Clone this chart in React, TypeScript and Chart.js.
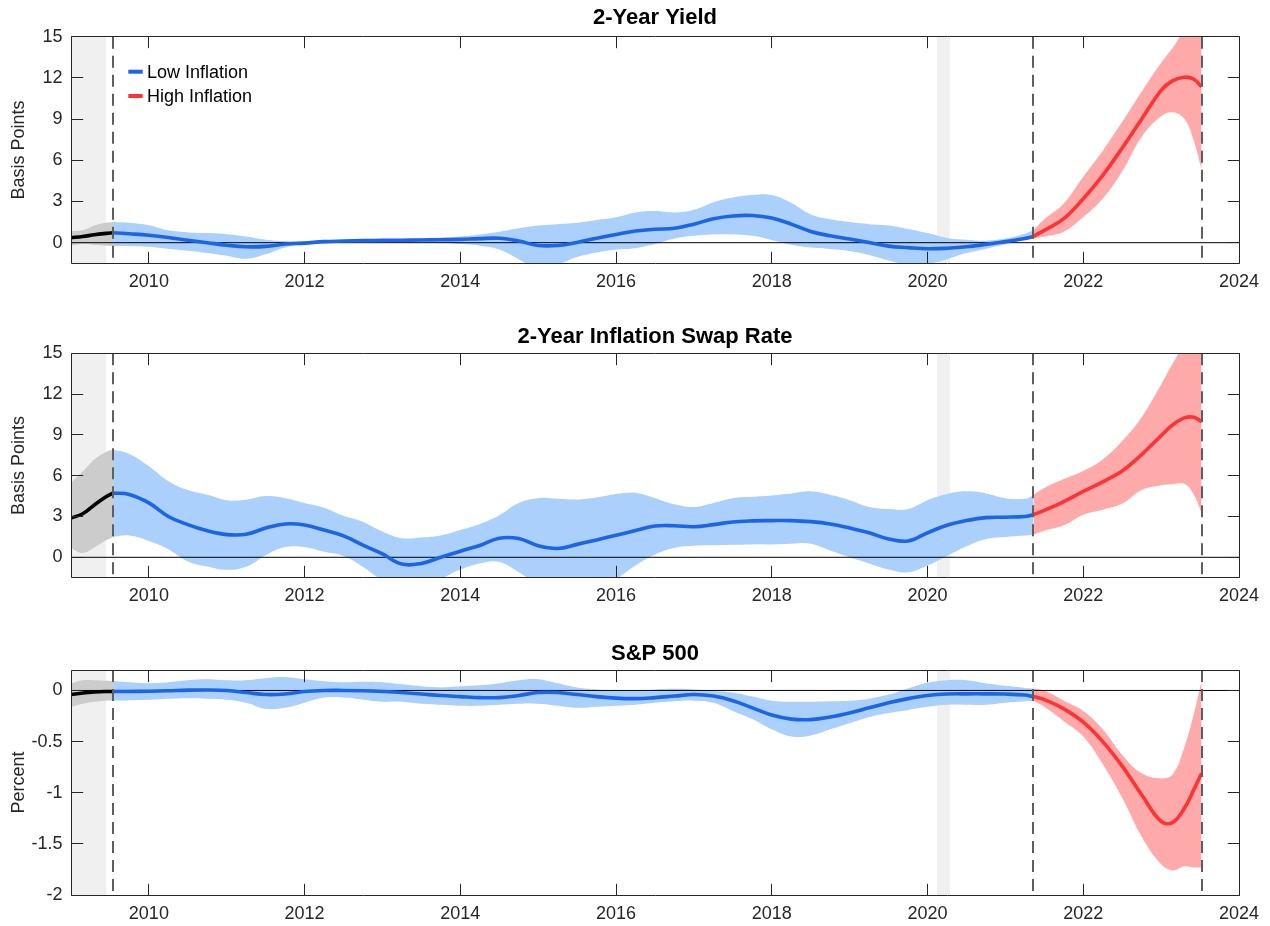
import React, { useEffect, useRef } from "react";
import { Chart, registerables } from "chart.js";

Chart.register(...registerables);

const FONT = "'Liberation Sans', Arial, Helvetica, sans-serif";
const W = 1270;

// Axis ranges and reference dates (decimal years)
const X_MIN = 2009;
const X_MAX = 2024;
const YEAR_TICKS = [2010, 2012, 2014, 2016, 2018, 2020, 2022, 2024];
const BP_TICKS = [0, 3, 6, 9, 12, 15];
const PCT_TICKS = [-2, -1.5, -1, -0.5, 0];
const RECESSIONS = [
  [2007.92, 2009.45],
  [2020.12, 2020.29],
];
const EVENT_DATES = [2009.54, 2021.36, 2023.52];

// Sample dates for the three regimes
const PRE_X = [2009.0, 2009.15, 2009.3, 2009.45, 2009.54];
const LOW_X = [
  2009.54, 2009.75, 2010, 2010.25, 2010.5, 2010.75, 2011, 2011.25, 2011.5, 2011.75,
  2012, 2012.25, 2012.5, 2012.75, 2013, 2013.25, 2013.5, 2013.75, 2014, 2014.25,
  2014.5, 2014.75, 2015, 2015.25, 2015.5, 2015.75, 2016, 2016.25, 2016.5, 2016.75,
  2017, 2017.25, 2017.5, 2017.75, 2018, 2018.25, 2018.5, 2018.75, 2019, 2019.25,
  2019.5, 2019.75, 2020, 2020.25, 2020.5, 2020.75, 2021, 2021.25, 2021.36,
];
const HIGH_X = [2021.36, 2021.5, 2021.75, 2022.0, 2022.25, 2022.5, 2022.75, 2023.0, 2023.15, 2023.3, 2023.42, 2023.52];

// 2-Year Yield (basis points)
const YIELD_PRE_MID = [0.36, 0.45, 0.58, 0.68, 0.73];
const YIELD_PRE_HI = [0.85, 0.9, 1.25, 1.45, 1.5];
const YIELD_PRE_LO = [-0.2, -0.1, -0.15, -0.22, -0.24];
const YIELD_LOW_MID = [
  0.73, 0.65, 0.54, 0.38, 0.18, 0.0, -0.18, -0.3, -0.27, -0.1,
  -0.03, 0.08, 0.12, 0.15, 0.17, 0.18, 0.2, 0.21, 0.24, 0.3,
  0.32, 0.12, -0.2, -0.2, 0.02, 0.33, 0.6, 0.85, 0.98, 1.05,
  1.35, 1.75, 1.95, 1.98, 1.8, 1.35, 0.82, 0.5, 0.27, 0.02,
  -0.25, -0.36, -0.44, -0.4, -0.3, -0.12, 0.08, 0.3, 0.46,
];
const YIELD_LOW_HI = [
  1.5, 1.45, 1.27, 0.9, 0.75, 0.7, 0.62, 0.45, 0.22, 0.12,
  0.1, 0.15, 0.2, 0.22, 0.24, 0.25, 0.3, 0.37, 0.45, 0.6,
  0.8, 1.05, 1.25, 1.35, 1.45, 1.65, 1.85, 2.2, 2.3, 2.2,
  2.4, 2.95, 3.3, 3.48, 3.47, 2.9, 2.05, 1.7, 1.5, 1.35,
  1.25, 1.0, 0.7, 0.35, 0.22, 0.15, 0.3, 0.65, 0.9,
];
const YIELD_LOW_LO = [
  -0.24, -0.25, -0.3, -0.45, -0.58, -0.75, -0.95, -1.17, -0.85, -0.35,
  -0.12, -0.03, 0.03, 0.07, 0.1, 0.1, 0.05, 0.0, -0.1, -0.22,
  -0.5, -1.2, -1.9, -1.6, -1.05, -0.72, -0.5, -0.4, -0.1, 0.3,
  0.5, 0.6, 0.6, 0.5, 0.2, -0.15, -0.35, -0.45, -0.6, -0.9,
  -1.3, -1.6, -1.55, -1.2, -0.75, -0.45, -0.12, 0.2, 0.3,
];
const YIELD_HIGH_MID = [0.46, 0.9, 1.75, 3.2, 4.9, 6.9, 9.0, 11.1, 11.8, 12.05, 11.9, 11.35];
const YIELD_HIGH_HI = [0.9, 1.7, 2.85, 4.8, 6.7, 8.8, 11.0, 13.1, 14.2, 15.5, 16.2, 16.8];
const YIELD_HIGH_LO = [0.3, 0.45, 0.8, 1.87, 3.2, 5.2, 7.7, 9.2, 9.5, 9.0, 7.4, 5.3];

// 2-Year Inflation Swap Rate (basis points)
const SWAP_PRE_MID = [2.89, 3.2, 3.85, 4.45, 4.72];
const SWAP_PRE_HI = [5.46, 6.3, 7.2, 7.75, 7.9];
const SWAP_PRE_LO = [0.69, 0.32, 0.72, 1.25, 1.5];
const SWAP_LOW_MID = [
  4.72, 4.62, 4.0, 3.0, 2.4, 1.95, 1.67, 1.69, 2.15, 2.45,
  2.38, 2.0, 1.58, 0.9, 0.25, -0.5, -0.45, 0.0, 0.45, 0.87,
  1.4, 1.38, 0.85, 0.65, 0.95, 1.28, 1.62, 1.97, 2.3, 2.32,
  2.25, 2.4, 2.6, 2.68, 2.7, 2.7, 2.62, 2.45, 2.15, 1.8,
  1.35, 1.2, 1.8, 2.35, 2.7, 2.92, 2.95, 3.0, 3.13,
];
const SWAP_LOW_HI = [
  7.9, 7.6, 6.7, 5.6, 4.95, 4.6, 4.2, 4.23, 4.5, 4.35,
  4.0, 3.65, 3.05, 2.6, 1.9, 1.4, 1.45, 1.6, 2.0, 2.45,
  3.1, 4.0, 4.35, 4.3, 4.25, 4.4, 4.65, 4.75, 4.35, 3.9,
  3.7, 4.0, 4.35, 4.45, 4.55, 4.7, 4.85, 4.6, 4.2, 3.7,
  3.55, 3.55, 4.2, 4.65, 4.85, 4.7, 4.35, 4.3, 4.55,
];
const SWAP_LOW_LO = [
  1.5, 1.6, 1.2, 0.6, -0.3, -0.68, -0.92, -0.7, 0.15, 0.75,
  0.75, 0.4, 0.1, -0.7, -1.7, -2.2, -2.3, -1.6, -0.9, -0.45,
  -0.35, -1.1, -2.0, -2.4, -2.5, -2.4, -1.6, -0.6, 0.2, 0.7,
  0.85, 0.88, 0.92, 0.95, 0.95, 1.0, 1.0, 0.5, 0.0, -0.45,
  -0.9, -1.1, -0.6, 0.1, 0.81, 1.35, 1.5, 1.6, 1.66,
];
const SWAP_HIGH_MID = [3.13, 3.45, 4.1, 4.84, 5.55, 6.35, 7.55, 8.95, 9.75, 10.25, 10.3, 9.98];
const SWAP_HIGH_HI = [4.6, 5.1, 5.75, 6.35, 7.2, 8.55, 10.3, 12.7, 14.26, 15.6, 16.2, 16.6];
const SWAP_HIGH_LO = [1.66, 1.95, 2.35, 3.13, 3.5, 3.95, 4.95, 5.3, 5.38, 5.4, 4.6, 3.25];

// S&P 500 (percent)
const SP_PRE_MID = [-0.04, -0.025, -0.015, -0.01, -0.01];
const SP_PRE_HI = [0.07, 0.1, 0.1, 0.095, 0.09];
const SP_PRE_LO = [-0.16, -0.13, -0.11, -0.1, -0.1];
const SP_LOW_MID = [
  -0.01, -0.01, -0.008, -0.003, 0.003, 0.005, 0.0, -0.02, -0.04, -0.035,
  -0.01, 0.0, 0.0, -0.003, -0.01, -0.02, -0.035, -0.05, -0.06, -0.07,
  -0.07, -0.05, -0.02, -0.02, -0.04, -0.06, -0.075, -0.08, -0.07, -0.055,
  -0.04, -0.055, -0.1, -0.17, -0.24, -0.28, -0.285, -0.26, -0.22, -0.17,
  -0.12, -0.08, -0.05, -0.035, -0.033, -0.033, -0.035, -0.045, -0.06,
];
const SP_LOW_HI = [
  0.09, 0.08, 0.07, 0.08, 0.1, 0.11, 0.1, 0.1, 0.12, 0.13,
  0.11, 0.09, 0.08, 0.085, 0.08, 0.06, 0.04, 0.03, 0.04, 0.05,
  0.07, 0.1, 0.11, 0.07, 0.03, 0.01, 0.0, -0.005, 0.01, 0.016,
  0.01, -0.005, -0.02, -0.06, -0.1, -0.11, -0.11, -0.105, -0.1, -0.08,
  -0.04, 0.02, 0.075, 0.1, 0.1, 0.07, 0.045, 0.025, 0.02,
];
const SP_LOW_LO = [
  -0.1, -0.095, -0.09, -0.08, -0.075, -0.08, -0.09, -0.12, -0.18, -0.17,
  -0.12, -0.07, -0.07, -0.09, -0.11, -0.11, -0.13, -0.14, -0.15, -0.15,
  -0.14, -0.13, -0.13, -0.15, -0.17, -0.16, -0.15, -0.14, -0.12, -0.105,
  -0.1, -0.12, -0.2, -0.28, -0.38, -0.45, -0.44, -0.38, -0.32, -0.26,
  -0.22, -0.19, -0.16, -0.14, -0.14, -0.14, -0.12, -0.105, -0.1,
];
const SP_HIGH_MID = [-0.06, -0.09, -0.18, -0.31, -0.5, -0.74, -1.02, -1.28, -1.29, -1.15, -0.97, -0.81];
const SP_HIGH_HI = [0.02, 0.0, -0.1, -0.2, -0.38, -0.63, -0.81, -0.86, -0.82, -0.55, -0.23, 0.1];
const SP_HIGH_LO = [-0.1, -0.16, -0.3, -0.45, -0.72, -1.05, -1.43, -1.7, -1.76, -1.72, -1.73, -1.73];

// Colours
const PRE_LINE = "#000000";
const PRE_BAND = "rgb(204,204,204)";
const LOW_LINE = "rgb(28,101,230)";
const LOW_BAND = "rgb(170,208,251)";
const HIGH_LINE = "rgb(255,51,51)";
const HIGH_BAND = "rgb(255,170,170)";
const RECESSION_FILL = "#f0f0f0";
const AXIS_COLOR = "#262626";

const LEGEND_ITEMS = [
  { label: "Low Inflation", color: LOW_LINE },
  { label: "High Inflation", color: HIGH_LINE },
];

type Segment = { xs: number[]; mid: number[]; lo: number[]; hi: number[]; line: string; band: string };

type PanelSpec = {
  title: string;
  yTitle: string;
  yMin: number;
  yMax: number;
  yTicks: number[];
  segments: Segment[];
  top: number;
  height: number;
  plotTop: number;
  xAxisHeight: number;
  titleY: number;
  legend: boolean;
};

const PANELS: PanelSpec[] = [
  {
    title: "2-Year Yield",
    yTitle: "Basis Points",
    yMin: -1.5,
    yMax: 15,
    yTicks: BP_TICKS,
    segments: [
      { xs: PRE_X, mid: YIELD_PRE_MID, lo: YIELD_PRE_LO, hi: YIELD_PRE_HI, line: PRE_LINE, band: PRE_BAND },
      { xs: LOW_X, mid: YIELD_LOW_MID, lo: YIELD_LOW_LO, hi: YIELD_LOW_HI, line: LOW_LINE, band: LOW_BAND },
      { xs: HIGH_X, mid: YIELD_HIGH_MID, lo: YIELD_HIGH_LO, hi: YIELD_HIGH_HI, line: HIGH_LINE, band: HIGH_BAND },
    ],
    top: 0,
    height: 310,
    plotTop: 36.7,
    xAxisHeight: 46.7,
    titleY: 18,
    legend: true,
  },
  {
    title: "2-Year Inflation Swap Rate",
    yTitle: "Basis Points",
    yMin: -1.5,
    yMax: 15,
    yTicks: BP_TICKS,
    segments: [
      { xs: PRE_X, mid: SWAP_PRE_MID, lo: SWAP_PRE_LO, hi: SWAP_PRE_HI, line: PRE_LINE, band: PRE_BAND },
      { xs: LOW_X, mid: SWAP_LOW_MID, lo: SWAP_LOW_LO, hi: SWAP_LOW_HI, line: LOW_LINE, band: LOW_BAND },
      { xs: HIGH_X, mid: SWAP_HIGH_MID, lo: SWAP_HIGH_LO, hi: SWAP_HIGH_HI, line: HIGH_LINE, band: HIGH_BAND },
    ],
    top: 310,
    height: 318,
    plotTop: 43.3,
    xAxisHeight: 50.3,
    titleY: 27,
    legend: false,
  },
  {
    title: "S&P 500",
    yTitle: "Percent",
    yMin: -2,
    yMax: 0.2,
    yTicks: PCT_TICKS,
    segments: [
      { xs: PRE_X, mid: SP_PRE_MID, lo: SP_PRE_LO, hi: SP_PRE_HI, line: PRE_LINE, band: PRE_BAND },
      { xs: LOW_X, mid: SP_LOW_MID, lo: SP_LOW_LO, hi: SP_LOW_HI, line: LOW_LINE, band: LOW_BAND },
      { xs: HIGH_X, mid: SP_HIGH_MID, lo: SP_HIGH_LO, hi: SP_HIGH_HI, line: HIGH_LINE, band: HIGH_BAND },
    ],
    top: 628,
    height: 298,
    plotTop: 42,
    xAxisHeight: 31,
    titleY: 26,
    legend: false,
  },
];

const toPoints = (xs: number[], ys: number[]) => xs.map((x, i) => ({ x, y: ys[i] }));

const CURVE = 0.4;

function buildDatasets(spec: PanelSpec): any[] {
  const sets: any[] = [];
  // Confidence bands: lower edge followed by upper edge filled down to it
  for (const s of spec.segments) {
    sets.push({
      data: toPoints(s.xs, s.lo),
      borderWidth: 0,
      borderColor: "rgba(0,0,0,0)",
      pointRadius: 0,
      fill: false,
      tension: CURVE,
      order: 3,
    });
    sets.push({
      data: toPoints(s.xs, s.hi),
      borderWidth: 0,
      borderColor: "rgba(0,0,0,0)",
      backgroundColor: s.band,
      pointRadius: 0,
      fill: "-1",
      tension: CURVE,
      order: 3,
    });
  }
  // Zero reference line
  sets.push({
    data: [
      { x: X_MIN, y: 0 },
      { x: X_MAX, y: 0 },
    ],
    borderColor: "#000000",
    borderWidth: 1,
    pointRadius: 0,
    fill: false,
    order: 2,
  });
  // Median responses
  for (const s of spec.segments) {
    sets.push({
      data: toPoints(s.xs, s.mid),
      borderColor: s.line,
      borderWidth: 3.6,
      pointRadius: 0,
      fill: false,
      tension: CURVE,
      borderCapStyle: "butt",
      order: 1,
    });
  }
  return sets;
}

function decorPlugin(spec: PanelSpec) {
  return {
    id: "panelDecor",
    beforeDatasetsDraw(chart: any) {
      const { ctx, chartArea: a } = chart;
      const xs = chart.scales.x;
      ctx.save();
      ctx.beginPath();
      ctx.rect(a.left, a.top, a.right - a.left, a.bottom - a.top);
      ctx.clip();
      ctx.fillStyle = RECESSION_FILL;
      for (const [s, e] of RECESSIONS) {
        const x0 = xs.getPixelForValue(s);
        const x1 = xs.getPixelForValue(e);
        ctx.fillRect(x0, a.top, x1 - x0, a.bottom - a.top);
      }
      ctx.restore();
    },
    afterDatasetsDraw(chart: any) {
      const { ctx, chartArea: a } = chart;
      const xs = chart.scales.x;
      const ys = chart.scales.y;
      ctx.save();

      // Regime boundaries
      ctx.strokeStyle = "#5e5e5e";
      ctx.lineWidth = 2;
      ctx.setLineDash([12, 7]);
      for (const d of EVENT_DATES) {
        const px = Math.round(xs.getPixelForValue(d));
        ctx.beginPath();
        ctx.moveTo(px, a.top);
        ctx.lineTo(px, a.bottom);
        ctx.stroke();
      }
      ctx.setLineDash([]);

      // Axes box with inward ticks
      const L = Math.floor(a.left) + 0.5;
      const R = Math.floor(a.right) + 0.5;
      const T = Math.floor(a.top) + 0.5;
      const B = Math.floor(a.bottom) + 0.5;
      const tick = 11.7;
      ctx.strokeStyle = AXIS_COLOR;
      ctx.lineWidth = 1;
      ctx.beginPath();
      ctx.rect(L, T, R - L, B - T);
      for (const v of YEAR_TICKS) {
        const px = Math.floor(xs.getPixelForValue(v)) + 0.5;
        ctx.moveTo(px, B);
        ctx.lineTo(px, B - tick);
        ctx.moveTo(px, T);
        ctx.lineTo(px, T + tick);
      }
      for (const v of spec.yTicks) {
        const py = Math.floor(ys.getPixelForValue(v)) + 0.5;
        ctx.moveTo(L, py);
        ctx.lineTo(L + tick, py);
        ctx.moveTo(R, py);
        ctx.lineTo(R - tick, py);
      }
      ctx.stroke();

      // Legend
      if (spec.legend) {
        ctx.font = `18px ${FONT}`;
        ctx.textAlign = "left";
        ctx.textBaseline = "alphabetic";
        LEGEND_ITEMS.forEach((item, i) => {
          const y = a.top + 35 + i * 24.3;
          ctx.strokeStyle = item.color;
          ctx.lineWidth = 4;
          ctx.beginPath();
          ctx.moveTo(a.left + 57.3, y);
          ctx.lineTo(a.left + 71.7, y);
          ctx.stroke();
          ctx.fillStyle = "#000000";
          ctx.fillText(item.label, a.left + 76, y + 6.2);
        });
      }
      ctx.restore();
    },
    afterDraw(chart: any) {
      const { ctx, chartArea: a } = chart;
      ctx.save();
      ctx.font = `bold 22px ${FONT}`;
      ctx.fillStyle = "#000000";
      ctx.textAlign = "center";
      ctx.textBaseline = "middle";
      ctx.fillText(spec.title, (a.left + a.right) / 2, spec.titleY);
      ctx.restore();
    },
  };
}

function buildConfig(spec: PanelSpec): any {
  const tickFont = { family: FONT, size: 18 };
  return {
    type: "line",
    data: { datasets: buildDatasets(spec) },
    plugins: [decorPlugin(spec)],
    options: {
      responsive: false,
      maintainAspectRatio: false,
      devicePixelRatio: 1,
      animation: false,
      events: [],
      layout: { padding: { top: spec.plotTop, right: 31, bottom: 0, left: 0 } },
      plugins: {
        legend: { display: false },
        tooltip: { enabled: false },
        title: { display: false },
      },
      scales: {
        x: {
          type: "linear",
          min: X_MIN,
          max: X_MAX,
          grid: { display: false, drawTicks: false },
          border: { display: false },
          afterBuildTicks: (scale: any) => {
            scale.ticks = YEAR_TICKS.map((value) => ({ value }));
          },
          afterFit: (scale: any) => {
            scale.height = spec.xAxisHeight;
          },
          ticks: {
            font: tickFont,
            color: AXIS_COLOR,
            padding: 8,
            maxRotation: 0,
            autoSkip: false,
            callback: (v: number) => String(v),
          },
        },
        y: {
          type: "linear",
          min: spec.yMin,
          max: spec.yMax,
          grid: { display: false, drawTicks: false },
          border: { display: false },
          afterBuildTicks: (scale: any) => {
            scale.ticks = spec.yTicks.map((value) => ({ value }));
          },
          afterFit: (scale: any) => {
            scale.width = 71;
          },
          ticks: {
            font: tickFont,
            color: AXIS_COLOR,
            padding: 8.5,
            autoSkip: false,
            callback: (v: number) => String(v),
          },
          title: {
            display: true,
            text: spec.yTitle,
            font: { family: FONT, size: 18 },
            color: AXIS_COLOR,
            padding: { top: 8, bottom: 0 },
          },
        },
      },
    },
  };
}

function PanelChart({ spec }: { spec: PanelSpec }) {
  const ref = useRef<HTMLCanvasElement | null>(null);
  useEffect(() => {
    const canvas = ref.current;
    if (!canvas) return;
    const chart = new Chart(canvas, buildConfig(spec));
    return () => chart.destroy();
  }, [spec]);
  return (
    <canvas
      ref={ref}
      width={W}
      height={spec.height}
      style={{ position: "absolute", left: 0, top: spec.top, width: W, height: spec.height }}
    />
  );
}

export default function App() {
  return (
    <div style={{ position: "absolute", left: 0, top: 0, width: W, height: 926, background: "#ffffff" }}>
      {PANELS.map((p) => (
        <PanelChart key={p.title} spec={p} />
      ))}
    </div>
  );
}
